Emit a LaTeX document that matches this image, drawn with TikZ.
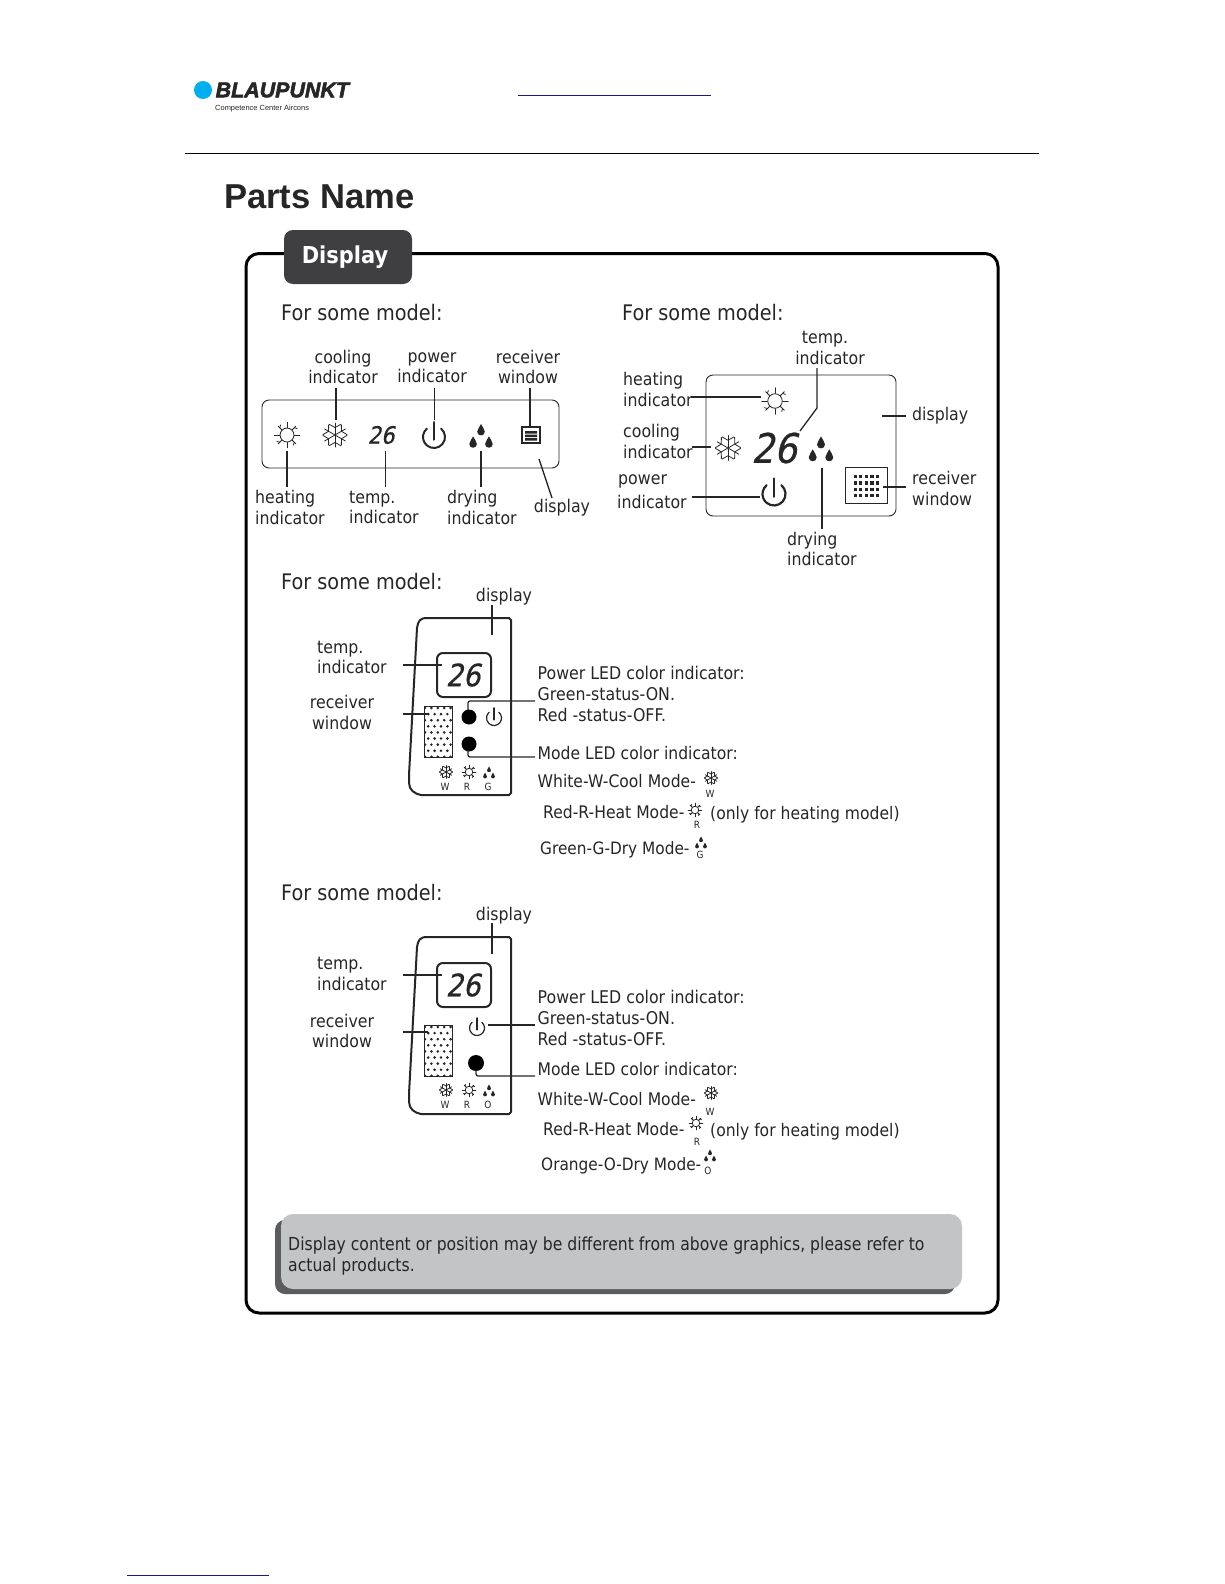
\documentclass[tikz,border=0pt]{standalone}
\usepackage{fontspec}
\setmainfont{DejaVu Sans}[FakeStretch=0.9]
\newfontfamily\notefont{DejaVu Sans}[FakeStretch=0.873]
\newfontfamily\headfont{Liberation Sans}
\newfontfamily\logofont{Liberation Sans}[BoldItalicFeatures={FakeBold=2.5}]
\newfontfamily\digitfont{DejaVu Sans}[FakeSlant=0.22,FakeStretch=0.88,FakeBold=0.6]
\definecolor{ink}{HTML}{262626}
\definecolor{tabgray}{HTML}{3F3F42}
\definecolor{notegray}{HTML}{C3C4C6}
\definecolor{noteshadow}{HTML}{5C5C5E}
\definecolor{logoblue}{HTML}{00AEEF}
\definecolor{linkblue}{HTML}{1A1A80}
\tikzset{
  lead/.style={draw=ink,line width=1.3bp},
  iconline/.style={draw=ink,line width=0.8bp,line cap=round},
  lab/.style={text=ink,inner sep=0pt,align=left,font=\fontsize{17.6}{20.6}\selectfont},
  labc/.style={lab,align=center},
  modeltitle/.style={text=ink,inner sep=0pt,anchor=west,font=\fontsize{21.5}{24}\selectfont},
  ledtext/.style={lab,anchor=west,font=\fontsize{17.6}{20.6}\selectfont},
  modetext/.style={lab,anchor=west,font=\fontsize{17.4}{20.6}\selectfont},
  drytext/.style={lab,anchor=west,font=\fontsize{17.1}{20.6}\selectfont},
  tiny/.style={text=ink,inner sep=0pt,font=\fontsize{10}{12}\selectfont},
  panel/.style={draw=ink,line width=0.9bp,rounded corners=7bp},
  devbox/.style={draw=ink,line width=2bp},
  led/.style={fill=black,draw=none},
}
\newcommand\leadline[3]{\coordinate (#1a) at (#2); \coordinate (#1b) at (#3); \draw[lead] (#1a) -- (#1b);}
\newcommand\sunicon[3]{\begin{scope}[shift={(#1,#2)},scale=#3]
  \draw[iconline] (0,0) circle[radius=.58];
  \foreach \a in {0,45,...,315}{\draw[iconline] (\a:.62) -- (\a:1.05);}
  \foreach \a in {45,135,225,315}{\draw[iconline] (\a:.85) -- ++(\a+60:.25);}
\end{scope}}
\newcommand\snowicon[3]{\begin{scope}[shift={(#1,#2)},scale=#3]
  \foreach \a in {30,90,...,330}{
    \draw[iconline] (0,0) -- (\a:1);
    \draw[iconline] (\a-28:1) -- (\a:.62) -- (\a+28:1);}
\end{scope}}
\newcommand\onedrop{\fill[ink] (0,-1) .. controls (.15,-.5) and (.62,-.25) .. (.62,.25)
   .. controls (.62,.65) and (.3,.85) .. (0,.85) .. controls (-.3,.85) and (-.62,.65) .. (-.62,.25)
   .. controls (-.62,-.25) and (-.15,-.5) .. (0,-1) -- cycle;}
\newcommand\dropsicon[3]{\begin{scope}[shift={(#1,#2)},scale=#3]
  \begin{scope}[shift={(0,-.62)},scale=.56]\onedrop\end{scope}
  \begin{scope}[shift={(-.72,.5)},scale=.56]\onedrop\end{scope}
  \begin{scope}[shift={(.72,.5)},scale=.56]\onedrop\end{scope}
\end{scope}}
\newcommand\powericon[4]{\begin{scope}[shift={(#1,#2)},scale=#3]
  \draw[draw=ink,line width=#4,line cap=round] (-50:1) arc[start angle=-50,end angle=230,radius=1];
  \draw[draw=ink,line width=#4,line cap=round] (0,-1.35) -- (0,.25);
\end{scope}}
% #1 outline and window offset, #2 offset of the digit box
\newcommand\devoutline[2]{\begin{scope}[shift={(0,#1)}]
  \draw[devbox,line join=round] (417,628) .. controls (418,621) and (420,618) .. (427,618) -- (509,618) -- (511,620) -- (511,793) -- (509,795)
    -- (421,795) .. controls (415,794) and (409,790) .. (409,783) -- (409,775) -- cycle;
  \begin{scope}
  \clip (424,706) rectangle (452,757);
  \foreach \r in {0,...,8}{\foreach \c in {0,...,4}{
    \fill[ink] ({425+\c*6.4+mod(\r,2)*3.2},{708+\r*6.1}) circle[radius=1.45];}}
  \end{scope}
\end{scope}
\draw[devbox,rounded corners=6bp] (437,653+#2) rectangle (491,697+#2);
\draw[draw=ink,line width=0.8bp] (424,706+#1) rectangle (452,757+#1);}
\begin{document}
\begin{tikzpicture}[x=1bp,y=-1bp]
\useasboundingbox (0,0) rectangle (1224,1584);
% header
\fill[logoblue] (203,90) circle[radius=9];
\node[anchor=west,inner sep=0pt,text=ink] (logo) at (215.5,90) {\logofont\fontsize{21.5}{24}\selectfont\bfseries\itshape BLAUPUNKT};
\node[anchor=west,inner sep=0pt,text=ink] (tagline) at (215,109) {\headfont\fontsize{7.5}{9}\selectfont Competence Center Aircons};
\coordinate (linkA) at (518,96); \coordinate (linkB) at (711,96);
\draw[linkblue,line width=1bp] (linkA) -- (linkB);
\coordinate (ruleA) at (185,153.5); \coordinate (ruleB) at (1039,153.5);
\draw[black,line width=1.1bp] (ruleA) -- (ruleB);
\node[anchor=west,inner sep=0pt,text=ink] (title) at (224,197) {\headfont\fontsize{34.7}{38}\selectfont\bfseries Parts Name};
% frame and tab
\draw[black,line width=3bp,rounded corners=13bp] (246,253.5) rectangle (998,1313);
\node[fill=tabgray,rounded corners=9bp,minimum width=128bp,minimum height=54bp,inner sep=0pt,text=white,font=\fontsize{23.4}{28}\selectfont\bfseries] (tab) at (348,257) {Display\rule{6bp}{0pt}};
% section titles
\node[modeltitle] (m1) at (281,313) {For some model:};
\node[modeltitle] (m2) at (622,313) {For some model:};
\node[modeltitle] (m3) at (281,582) {For some model:};
\node[modeltitle] (m4) at (281,893) {For some model:};

% panel 1
\draw[panel] (262,400) rectangle (559,468);
\sunicon{287}{435}{12}
\snowicon{335}{435}{12}
\node[inner sep=0pt,text=ink,font=\digitfont\fontsize{24}{26}\selectfont] (d1) at (381,435) {26};
\powericon{434}{437}{11}{2bp}
\dropsicon{481}{437}{11}
\draw[draw=ink,line width=1.1bp] (522,427) rectangle (540,443);
\fill[ink] (525,431) rectangle (537,433.5) (525,434.5) rectangle (537,437) (525,438) rectangle (537,440.5);
\leadline{p1c}{336,388}{336,420}
\leadline{p1p}{434.5,388}{434.5,420}
\leadline{p1r}{530,388}{530,427}
\leadline{p1h}{287,451}{287,487}
\leadline{p1t}{385.5,451}{385.5,487}
\leadline{p1d}{481,451}{481,487}
\leadline{p1s}{539,459}{552,498}
\node[labc] (l1c) at (343,367) {cooling\\indicator};
\node[labc] (l1p) at (432,367.5) {power\\indicator};
\node[labc] (l1r) at (528,367) {receiver\\window};
\node[lab,anchor=west] (l1h) at (255,507.5) {heating\\indicator};
\node[lab,anchor=west] (l1t) at (349,507.5) {temp.\\indicator};
\node[lab,anchor=west] (l1d) at (447,507.5) {drying\\indicator};
\node[labc] (l1s) at (562,508) {display};

% panel 2
\draw[panel] (706,375) rectangle (896,516);
\sunicon{775}{401}{12.5}
\snowicon{728}{448}{12.5}
\node[inner sep=0pt,text=ink,font=\digitfont\fontsize{41}{44}\selectfont] (d2) at (774,448) {26};
\dropsicon{821}{450}{11.5}
\powericon{774}{494}{11.5}{2.2bp}
\draw[draw=ink,line width=0.9bp] (845,467) rectangle (887,503);
\foreach \r in {0,...,3}{\foreach \c in {0,...,4}{
  \fill[ink] ({853.5+\c*5.6},{475+\r*6.4}) rectangle ++(3.2,3.2);}}
\leadline{p2h}{691,397}{761,397}
\leadline{p2c}{692,447}{711,447}
\leadline{p2p}{692,497}{760,497}
\coordinate (p2ta) at (817,368); \coordinate (p2tb) at (817,408); \coordinate (p2tc) at (800,431);
\draw[lead] (p2ta) -- (p2tb) -- (p2tc);
\leadline{p2s}{882,416}{906,416}
\leadline{p2r}{883,487}{906,487}
\leadline{p2d}{822,468}{822,529}
\node[inner sep=0pt,text=ink,font=\fontsize{17.6}{20}\selectfont] (l2t1) at (825,339) {temp.};
\node[inner sep=0pt,text=ink,font=\fontsize{17.6}{20}\selectfont] (l2t2) at (830,358) {indicator};
\node[lab,anchor=west] (l2h) at (623,389.5) {heating\\indicator};
\node[lab,anchor=west] (l2c) at (623,441.5) {cooling\\indicator};
\node[lab,anchor=west] (l2p1) at (618,481.5) {power};
\node[lab,anchor=west] (l2p2) at (617,502) {indicator};
\node[lab,anchor=west] (l2s) at (912,415.5) {display};
\node[lab,anchor=west] (l2r) at (912,488.5) {receiver\\window};
\node[lab,anchor=west] (l2d) at (787,549) {drying\\indicator};

% device 3
\devoutline{0}{0}
\node[inner sep=0pt,text=ink,font=\digitfont\fontsize{31}{34}\selectfont] (d3) at (463,675) {26};
\fill[led] (469,717) circle[radius=7.5];
\fill[led] (469,744) circle[radius=7.5];
\powericon{494}{718}{7.5}{1.2bp}
\snowicon{446}{772}{6.5}
\sunicon{469}{772}{6.5}
\dropsicon{489}{773}{5.5}
\node[tiny] (w3) at (445,787) {W};
\node[tiny] (r3) at (467,787) {R};
\node[tiny] (g3) at (488,787) {G};
\leadline{p3s}{492,605}{492,635}
\leadline{p3t}{403,665}{442,665}
\leadline{p3r}{403,714}{428,714}
\coordinate (p3pa) at (468,710); \coordinate (p3pb) at (468,701); \coordinate (p3pc) at (535,701);
\draw[lead,rounded corners=2bp] (p3pa) -- (p3pb) -- (p3pc);
\coordinate (p3ma) at (468,750); \coordinate (p3mb) at (468,757); \coordinate (p3mc) at (535,757);
\draw[lead,rounded corners=2bp] (p3ma) -- (p3mb) -- (p3mc);
\node[labc] (l3s) at (504,597) {display};
\node[lab,anchor=west] (l3t) at (317,657.5) {temp.\\indicator};
\node[labc] (l3r) at (342,712.5) {receiver\\window};
\node[ledtext] (t3a) at (537.5,673) {Power LED color indicator:};
\node[ledtext] (t3b) at (537.5,694) {Green-status-ON.};
\node[ledtext] (t3c) at (537.5,715) {Red -status-OFF.};
\node[modetext] (t3d) at (537.5,753) {Mode LED color indicator:};
\node[modetext] (t3e) at (537.5,781) {White-W-Cool Mode-};
\snowicon{711}{778}{6.5}
\node[tiny] (w3k) at (710,794) {W};
\node[modetext] (t3f) at (543,812) {Red-R-Heat Mode-};
\sunicon{695}{810}{6.5}
\node[tiny] (r3k) at (697,825) {R};
\node[modetext] (t3g) at (710,815) {(only for heating model)};
\node[drytext] (t3h) at (540,850) {Green-G-Dry Mode-};
\dropsicon{701}{843}{5.5}
\node[tiny] (g3k) at (700,855) {G};

% device 4
\devoutline{319}{310}
\node[inner sep=0pt,text=ink,font=\digitfont\fontsize{31}{34}\selectfont] (d4) at (463,985) {26};
\powericon{477}{1028}{7.5}{1.2bp}
\fill[led] (476,1063) circle[radius=8];
\snowicon{446}{1090}{6.5}
\sunicon{469}{1090}{6.5}
\dropsicon{489}{1091}{5.5}
\node[tiny] (w4) at (445,1105) {W};
\node[tiny] (r4) at (467,1105) {R};
\node[tiny] (o4) at (488,1105) {O};
\leadline{p4s}{492,923}{492,954}
\leadline{p4t}{403,975}{442,975}
\leadline{p4r}{403,1032}{428,1032}
\leadline{p4p}{488,1025}{535,1025}
\coordinate (p4ma) at (476,1070); \coordinate (p4mb) at (476,1076); \coordinate (p4mc) at (535,1076);
\draw[lead,rounded corners=2bp] (p4ma) -- (p4mb) -- (p4mc);
\node[labc] (l4s) at (504,915.5) {display};
\node[lab,anchor=west] (l4t) at (317,974) {temp.\\indicator};
\node[labc] (l4r) at (342,1031) {receiver\\window};
\node[ledtext] (t4a) at (537.5,997) {Power LED color indicator:};
\node[ledtext] (t4b) at (537.5,1018) {Green-status-ON.};
\node[ledtext] (t4c) at (537.5,1039) {Red -status-OFF.};
\node[modetext] (t4d) at (537.5,1069) {Mode LED color indicator:};
\node[modetext] (t4e) at (537.5,1099) {White-W-Cool Mode-};
\snowicon{711}{1093}{6.5}
\node[tiny] (w4k) at (710,1112) {W};
\node[modetext] (t4f) at (543,1129) {Red-R-Heat Mode-};
\sunicon{696}{1123}{6.5}
\node[tiny] (r4k) at (697,1142) {R};
\node[modetext] (t4g) at (710,1132) {(only for heating model)};
\node[drytext] (t4h) at (541,1166) {Orange-O-Dry Mode-};
\dropsicon{710}{1156}{5.5}
\node[tiny] (o4k) at (708,1171) {O};

% note
\fill[noteshadow,rounded corners=10bp] (275,1220) rectangle (955,1294);
\fill[notegray,rounded corners=12bp] (281,1214) rectangle (962,1289);
\node[anchor=west,inner sep=0pt,text=ink,align=left,font=\notefont\fontsize{18}{20.6}\selectfont] (note) at (288,1256) {Display content or position may be different from above graphics, please refer to\\actual products.};
% footer link
\coordinate (footA) at (127,1575); \coordinate (footB) at (269,1575);
\draw[linkblue,line width=1bp] (footA) -- (footB);
\end{tikzpicture}
\end{document}
